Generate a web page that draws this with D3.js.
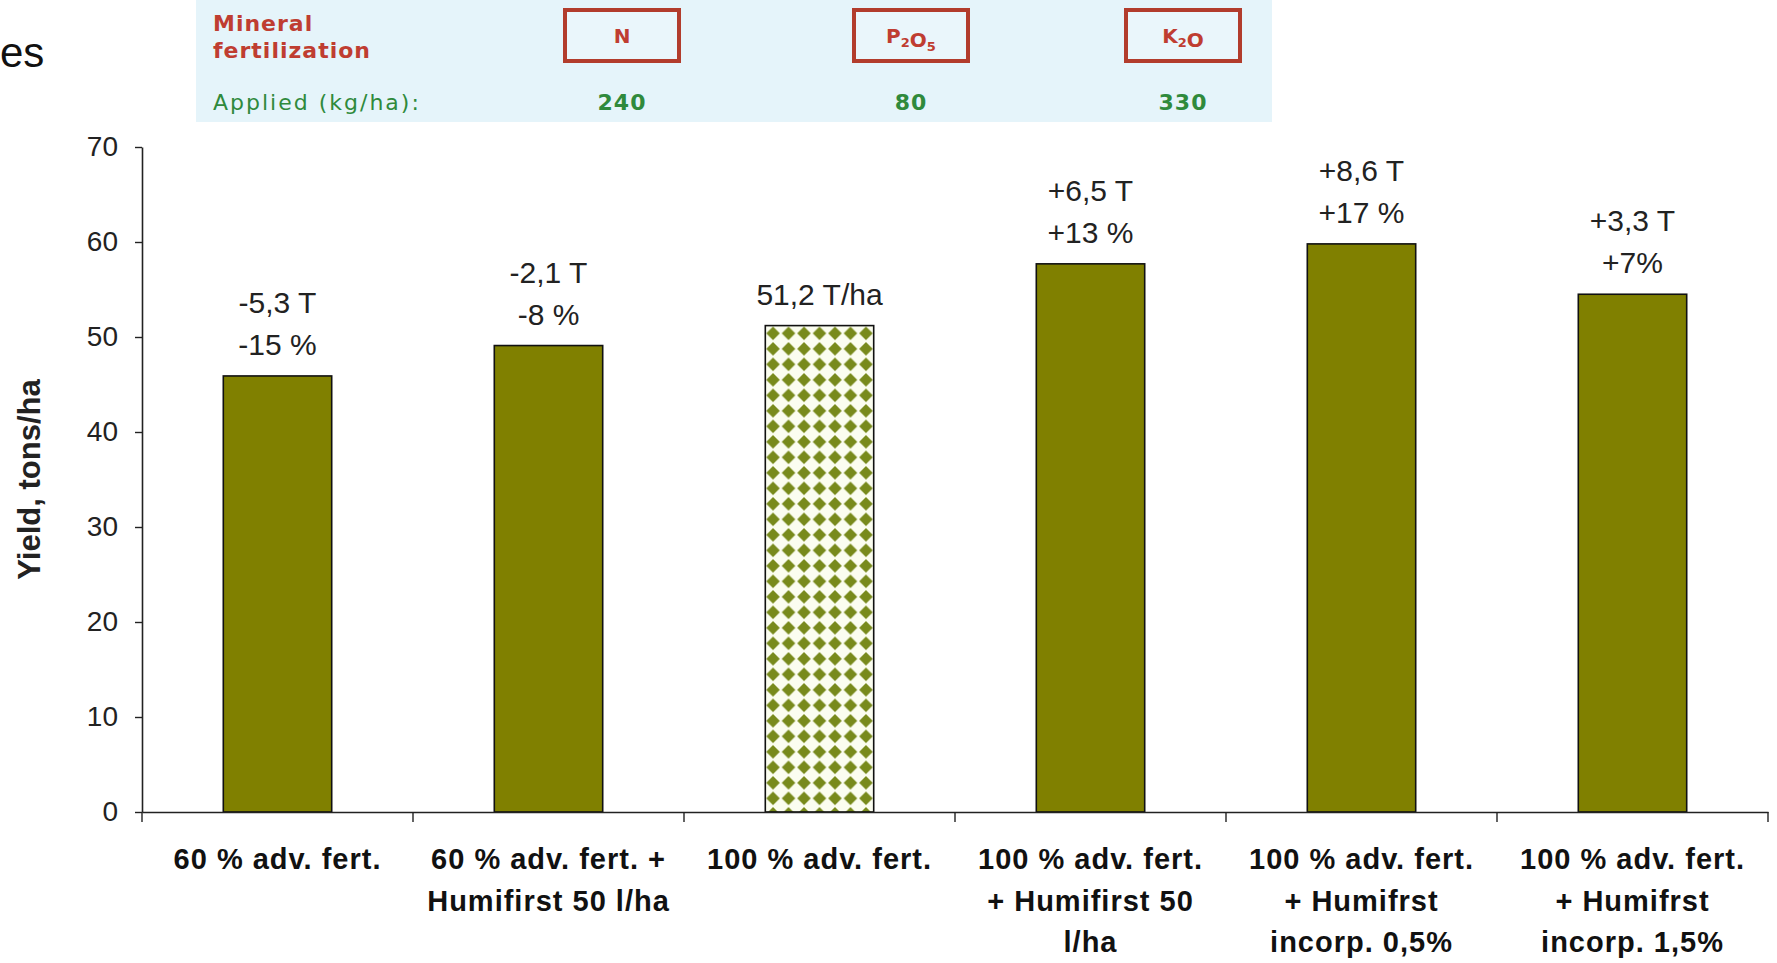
<!DOCTYPE html>
<html>
<head>
<meta charset="utf-8">
<script src="https://cdn.jsdelivr.net/npm/d3@7"></script>
<style>
  html, body { margin: 0; padding: 0; background: #ffffff; }
  svg { display: block; }
</style>
</head>
<body>
<svg id="chart" width="1777" height="963"></svg>
<script>
// Treatments along the x axis (each entry is one wrapped label)
const categoryLines = [
  ["60 % adv. fert."],
  ["60 % adv. fert. +", "Humifirst 50 l/ha"],
  ["100 % adv. fert."],
  ["100 % adv. fert.", "+ Humifirst 50", "l/ha"],
  ["100 % adv. fert.", "+ Humifrst", "incorp. 0,5%"],
  ["100 % adv. fert.", "+ Humifrst", "incorp. 1,5%"]
];
// Yield, tons/ha
const yieldValues = [45.9, 49.1, 51.2, 57.7, 59.8, 54.5];
// Difference labels stated above each bar
const diffTons = ["-5,3 T", "-2,1 T", "51,2 T/ha", "+6,5 T", "+8,6 T", "+3,3 T"];
const diffPct = ["-15 %", "-8 %", "", "+13 %", "+17 %", "+7%"];
// The reference treatment drawn with a pattern
const referenceIndex = 2;
const yTicks = [0, 10, 20, 30, 40, 50, 60, 70];

// Mineral fertilization header
const nutrients = ["N", "P2O5", "K2O"];
const appliedKgHa = [240, 80, 330];

const svg = d3.select("#chart");
const W = 1777, H = 963;
const margin = { left: 142, right: 9, top: 147, bottom: 151 };
const x0 = margin.left, x1 = W - margin.right;
const yTop = margin.top, yBot = H - margin.bottom;

const cats = categoryLines.map((d, i) => "c" + i);
const x = d3.scaleBand().domain(cats).range([x0, x1]).paddingInner(0.6).paddingOuter(0.3);
const y = d3.scaleLinear().domain([0, 70]).range([yBot, yTop]);

// ---- header strip ----
const head = svg.append("g").attr("class", "header");
head.append("rect").attr("x", 196).attr("y", 0).attr("width", 1076).attr("height", 122)
  .attr("fill", "#e5f4fa");
const red = "#bf3d31", green = "#2f8a3c";
head.append("text").attr("x", 213).attr("y", 31).attr("fill", red)
  .attr("font-family", "DejaVu Sans").attr("font-weight", "bold").attr("font-size", 22)
  .attr("letter-spacing", 1).text("Mineral");
head.append("text").attr("x", 213).attr("y", 58).attr("fill", red)
  .attr("font-family", "DejaVu Sans").attr("font-weight", "bold").attr("font-size", 22)
  .attr("letter-spacing", 1).text("fertilization");
head.append("text").attr("x", 213).attr("y", 110).attr("fill", green)
  .attr("font-family", "DejaVu Sans").attr("font-size", 22)
  .attr("letter-spacing", 2).text("Applied (kg/ha):");

// header column centres, one per nutrient
const hx = d3.scaleOrdinal().domain(nutrients).range([622, 911, 1183]);
nutrients.forEach(n => {
  const cx = hx(n);
  head.append("rect").attr("x", cx - 57).attr("y", 10).attr("width", 114).attr("height", 51)
    .attr("fill", "#eaf6fb").attr("stroke", "#b23c2c").attr("stroke-width", 4);
  const t = head.append("text").attr("x", cx).attr("y", 43).attr("text-anchor", "middle")
    .attr("fill", red).attr("font-family", "DejaVu Sans").attr("font-weight", "bold").attr("font-size", 20);
  // chemical formulas with subscript digits
  const parts = n.match(/[A-Za-z]+|\d+/g);
  parts.forEach(p => {
    if (/^\d+$/.test(p)) {
      t.append("tspan").attr("font-size", 13).attr("dy", 4).text(p);
      t.append("tspan").attr("font-size", 20).attr("dy", -4).text("");
    } else {
      t.append("tspan").text(p);
    }
  });
});
appliedKgHa.forEach((v, i) => {
  head.append("text").attr("x", hx(nutrients[i])).attr("y", 110).attr("text-anchor", "middle")
    .attr("fill", green).attr("font-family", "DejaVu Sans").attr("font-weight", "bold").attr("font-size", 22)
    .attr("letter-spacing", 1).text(v);
});

// title fragment at the top-left corner
svg.append("text").attr("x", 0).attr("y", 67)
  .attr("font-family", "Liberation Sans, Arial, sans-serif").attr("font-size", 42).attr("fill", "#111")
  .text("es");

// ---- diamond pattern for the reference bar ----
const p = 15.5;
const defs = svg.append("defs");
const refX = x(cats[referenceIndex]);
const pw = x.bandwidth() / 7;
const pat = defs.append("pattern").attr("id", "diamonds").attr("patternUnits", "userSpaceOnUse")
  .attr("width", pw).attr("height", p)
  .attr("x", refX).attr("y", y(yieldValues[referenceIndex]));
pat.append("rect").attr("width", pw).attr("height", p).attr("fill", "#fbfdf0");
pat.append("path")
  .attr("d", `M${pw / 2},${p / 2 - 6.8} L${pw / 2 + 6.8},${p / 2} L${pw / 2},${p / 2 + 6.8} L${pw / 2 - 6.8},${p / 2} Z`)
  .attr("fill", "#788a1c");

// ---- bars ----
svg.append("g").selectAll("rect").data(yieldValues).join("rect")
  .attr("x", (d, i) => x(cats[i]))
  .attr("y", d => y(d))
  .attr("width", x.bandwidth())
  .attr("height", d => y(0) - y(d))
  .attr("fill", (d, i) => i === referenceIndex ? "url(#diamonds)" : "#808000")
  .attr("stroke", "#111").attr("stroke-width", 1.6);

// ---- value / difference labels ----
const lab = svg.append("g").attr("font-family", "Liberation Sans, Arial, sans-serif")
  .attr("font-size", 30).attr("fill", "#222").attr("text-anchor", "middle");
yieldValues.forEach((v, i) => {
  const cx = x(cats[i]) + x.bandwidth() / 2;
  const lines = [diffTons[i], diffPct[i]].filter(s => s !== "");
  lines.forEach((s, k) => {
    lab.append("text").attr("x", cx)
      .attr("y", y(v) - 21 - (lines.length - 1 - k) * 42)
      .text(s);
  });
});

// ---- y axis ----
const yAxis = svg.append("g").attr("transform", `translate(${x0},0)`)
  .call(d3.axisLeft(y).tickValues(yTicks).tickSize(7).tickSizeOuter(0).tickPadding(17));
yAxis.select(".domain").attr("stroke", "#222").attr("stroke-width", 1.6);
yAxis.selectAll(".tick line").attr("stroke", "#222").attr("stroke-width", 1.4);
yAxis.selectAll(".tick text").attr("font-family", "Liberation Sans, Arial, sans-serif")
  .attr("font-size", 28).attr("fill", "#222");

svg.append("text")
  .attr("transform", `translate(40,${(yTop + yBot) / 2}) rotate(-90)`)
  .attr("text-anchor", "middle")
  .attr("font-family", "Liberation Sans, Arial, sans-serif").attr("font-weight", "bold")
  .attr("font-size", 31).attr("fill", "#222")
  .text("Yield, tons/ha");

// ---- x axis ----
const xAxis = svg.append("g").attr("transform", `translate(0,${yBot})`)
  .call(d3.axisBottom(x).tickSize(0).tickSizeOuter(0).tickFormat(""));
xAxis.select(".domain").attr("stroke", "#222").attr("stroke-width", 1.6);

// separators between treatments
const step = x.step();
const bounds = d3.range(cats.length + 1).map(i => x(cats[0]) - x.paddingOuter() * step + i * step);
svg.append("g").selectAll("line").data(bounds).join("line")
  .attr("x1", d => d).attr("x2", d => d)
  .attr("y1", yBot).attr("y2", yBot + 10)
  .attr("stroke", "#222").attr("stroke-width", 1.4);

// wrapped category labels
xAxis.selectAll(".tick").each(function (d, i) {
  const g = d3.select(this);
  const t = g.append("text").attr("text-anchor", "middle")
    .attr("font-family", "Liberation Sans, Arial, sans-serif").attr("font-weight", "bold")
    .attr("font-size", 29).attr("letter-spacing", 1).attr("fill", "#111");
  categoryLines[i].forEach((s, k) => {
    t.append("tspan").attr("x", 0).attr("y", 57 + k * 41.5).text(s);
  });
});
</script>
</body>
</html>
